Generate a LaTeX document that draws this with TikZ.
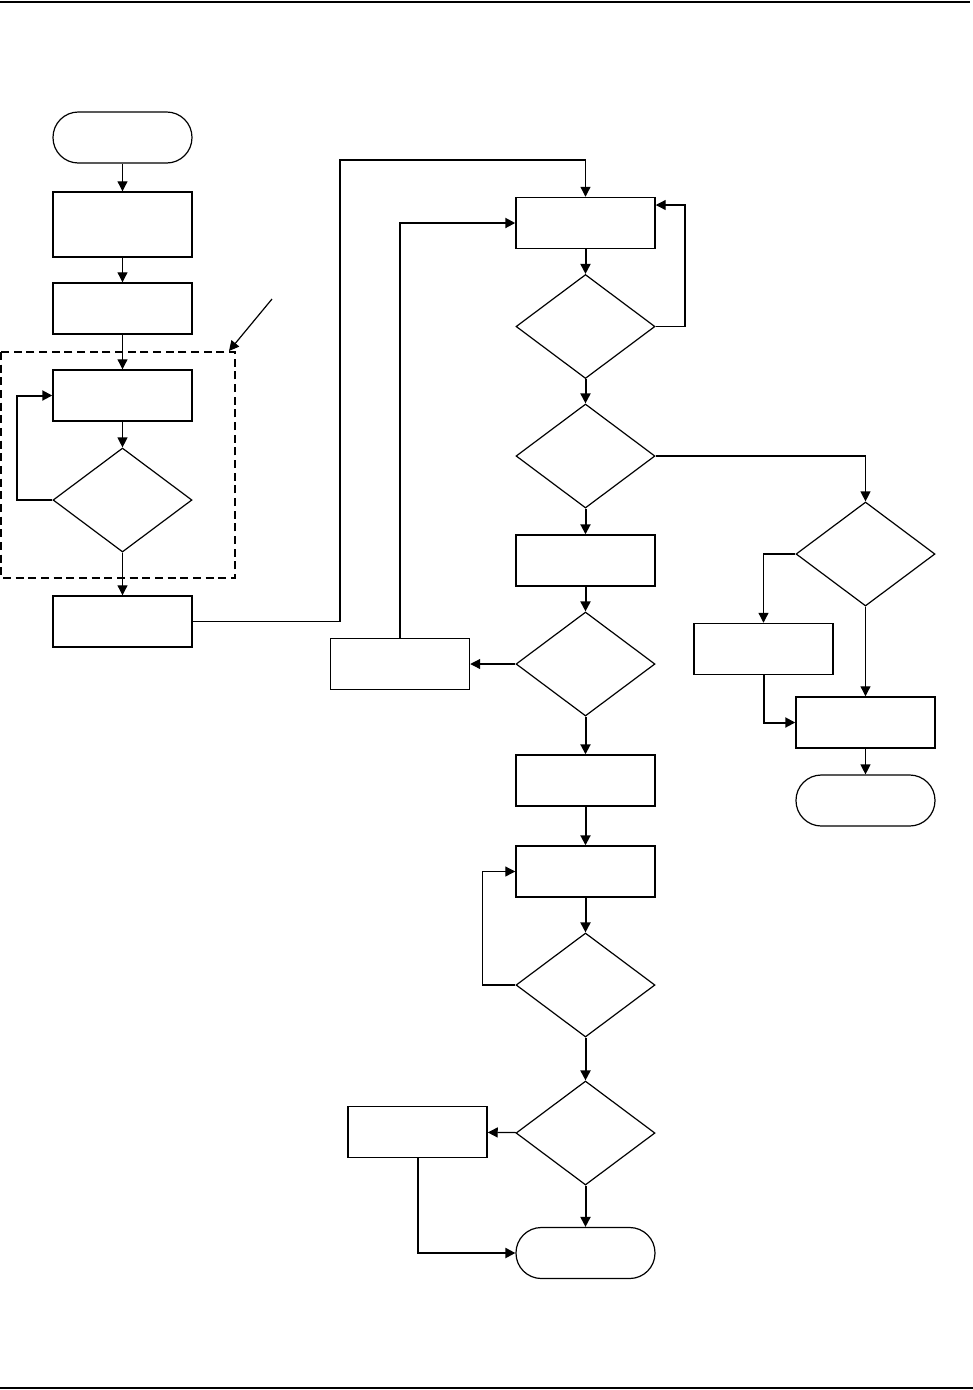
\documentclass[tikz,border=0pt]{standalone}
\usetikzlibrary{shapes.geometric,arrows.meta}
\begin{document}
\begin{tikzpicture}[x=0.75pt,y=-0.75pt,
  box/.style={draw, line width=1.1pt, inner sep=0pt, minimum width=104.25pt, minimum height=38.25pt},
  term/.style={draw, line width=0.9pt, rounded corners=19pt, inner sep=0pt, minimum width=104.25pt, minimum height=38.25pt},
  dia/.style={draw, diamond, line width=0.9pt, inner sep=0pt, minimum width=104.25pt, minimum height=78pt},
  arr/.style={-{Triangle[length=7.5pt,width=7.5pt]}, line width=0.9pt},
  tarr/.style={-{Triangle[length=7.5pt,width=7.5pt]}, line width=1.5pt},
  frame/.style={line width=1.5pt}]
\useasboundingbox (0,0) rectangle (973,1390);
\draw[frame] (0,2) -- (970,2);
\draw[line width=2.2pt] (0,1388) -- (973,1388);
% left column
\node[term] (s) at (122.5,137.5) {};
\node[box, minimum height=48.75pt] (b1) at (122.5,224.5) {};
\node[box] (b2) at (122.5,308.5) {};
\node[box] (b3) at (122.5,395.5) {};
\node[dia] (d1) at (122.5,500) {};
\node[box] (b4) at (122.5,621.5) {};
\draw[line width=1.1pt, dash pattern=on 6pt off 3.5pt] (1,352) rectangle (235,578);
\coordinate (p0) at (272,299);
\coordinate (p1) at (229,351);
\draw[arr] (p0) -- (p1);
% middle column
\node[box] (b5) at (585.5,223) {};
\node[dia] (d2) at (585.5,326.5) {};
\node[dia] (d3) at (585.5,456) {};
\node[box] (b9) at (585.5,560.5) {};
\node[dia] (d5) at (585.5,664) {};
\node[box] (b6) at (400,664) {};
\node[box] (b10) at (585.5,780.5) {};
\node[box] (b11) at (585.5,871.5) {};
\node[dia] (d6) at (585.5,985) {};
\node[dia] (d7) at (585.5,1133) {};
\node[box] (b12) at (417.5,1132) {};
\node[term] (e3) at (585.5,1253) {};
% right column
\node[dia] (d4) at (865.5,554) {};
\node[box] (b7) at (763.5,649) {};
\node[box] (b8) at (865.5,722.5) {};
\node[term] (e2) at (865.5,800.5) {};
% connectors
\draw[arr] (s) -- (b1);
\draw[arr] (b1) -- (b2);
\draw[arr] (b2) -- (b3);
\draw[arr] (b3) -- (d1);
\draw[arr] (d1) -- (b4);
\draw[tarr] (d1.west) -- ++(-35,0) |- (b3.west);
\coordinate (c1) at (340,160);
\draw[arr] (b4.east) -| (c1) -| (b5.north);
\draw[tarr] (b5) -- (d2);
\coordinate (c2) at (685,205);
\draw[arr] (d2.east) -| (c2) -- (c2 -| b5.east);
\draw[tarr] (d2) -- (d3);
\draw[arr] (d3.east) -| (d4.north);
\draw[arr] (d4.west) -| (b7.north);
\draw[tarr] (b7.south) |- (b8.west);
\draw[arr] (d4) -- (b8);
\draw[arr] (b8) -- (e2);
\draw[tarr] (d3) -- (b9);
\draw[tarr] (b9) -- (d5);
\draw[arr] (d5) -- (b6);
\draw[tarr] (b6.north) |- (b5.west);
\draw[tarr] (d5) -- (b10);
\draw[tarr] (b10) -- (b11);
\draw[tarr] (b11) -- (d6);
\draw[arr] (d6.west) -- ++(-33,0) |- (b11.west);
\draw[tarr] (d6) -- (d7);
\draw[arr] (d7) -- (b12);
\draw[tarr] (b12.south) |- (e3.west);
\draw[tarr] (d7) -- (e3);
\end{tikzpicture}
\end{document}
